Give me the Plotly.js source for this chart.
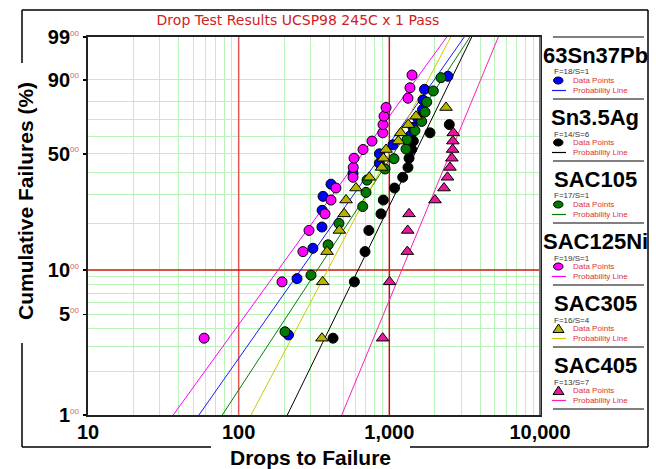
<!DOCTYPE html>
<html><head><meta charset="utf-8">
<script src="https://cdn.plot.ly/plotly-3.0.1.min.js"></script>
<style>html,body{margin:0;padding:0;background:#fff}#chart{width:656px;height:469px}</style>
</head><body><div id="chart"></div>
<script>
// ---------- data ----------
const seriesNames  = ['63Sn37Pb','Sn3.5Ag','SAC105','SAC125Ni','SAC305','SAC405'];
const seriesCounts = ['F=18/S=1','F=14/S=6','F=17/S=1','F=19/S=1','F=16/S=4','F=13/S=7'];

const drops_63Sn37Pb = [214, 244, 311, 357, 358, 363, 410, 574, 858, 860, 1057, 1371, 1436, 1549, 1660, 1673, 1712, 2450];
const pct_63Sn37Pb   = [3.61, 8.76, 13.92, 19.07, 24.23, 29.38, 34.54, 39.69, 44.85, 50.00, 55.15, 60.31, 65.46, 70.62, 75.77, 80.93, 86.08, 91.24];

const drops_Sn35Ag = [423, 586, 690, 731, 880, 912, 1082, 1227, 1330, 1351, 1407, 1443, 1862, 2500];
const pct_Sn35Ag   = [3.43, 8.33, 13.24, 18.14, 23.04, 27.94, 32.84, 37.75, 42.65, 47.55, 52.45, 57.35, 62.25, 67.16];

const drops_SAC105 = [203, 302, 392, 463, 666, 700, 711, 936, 1074, 1290, 1310, 1479, 1640, 1725, 1770, 1958, 2203];
const pct_SAC105   = [3.80, 9.24, 14.67, 20.11, 25.54, 30.98, 36.41, 41.85, 47.28, 52.72, 58.15, 63.59, 69.02, 74.46, 79.89, 85.33, 90.76];

const drops_SAC125Ni = [59, 194, 267, 293, 374, 410, 442, 574, 576, 583, 669, 767, 905, 908, 922, 951, 1330, 1371, 1414];
const pct_SAC125Ni   = [3.43, 8.33, 13.24, 18.14, 23.04, 27.94, 32.84, 37.75, 42.65, 47.55, 52.45, 57.35, 62.25, 67.16, 72.06, 76.96, 81.86, 86.76, 91.67];

const drops_SAC305 = [357, 361, 386, 466, 502, 516, 601, 736, 889, 912, 951, 1147, 1190, 1336, 1503, 2377];
const pct_SAC305   = [3.43, 8.33, 13.24, 18.14, 23.04, 27.94, 32.84, 37.75, 42.65, 47.55, 52.45, 57.35, 62.25, 67.16, 72.06, 76.96];

const drops_SAC405 = [903, 1003, 1316, 1324, 1351, 2010, 2306, 2432, 2527, 2600, 2630, 2640, 2658];
const pct_SAC405   = [3.43, 8.33, 13.24, 18.14, 23.04, 27.94, 32.84, 37.75, 42.65, 47.55, 52.45, 57.35, 62.25];

// probability lines (Weibull beta / eta)
const lineBeta = [1.511, 2.174, 1.619, 1.466, 2.007, 2.560];
const lineEta  = [1144, 1746, 1334, 848, 1195, 2914];

const xTickVals  = [10, 100, 1000, 10000];
const xTickText  = ['10', '100', '1,000', '10,000'];
const xMinorVals = [20,30,40,50,60,70,80,90,200,300,400,500,600,700,800,900,2000,3000,4000,5000,6000,7000,8000,9000];
const yTickVals  = [1, 5, 10, 50, 90, 99];
const yTickText  = ['1', '5', '10', '50', '90', '99'];
const yMinorVals = [2,3,4,6,7,8,9,20,30,40,60,70,80];
const refX = [100, 1000];
const refY = [10];

// ---------- styles ----------
const markerColors = ['#0000ff', '#000000', '#007a00', '#ff00ff', '#b4b400', '#e8189c'];
const lineColors   = ['#1a1aff', '#000000', '#008000', '#ff00ff', '#cccc00', '#ff1fb4'];
const markerSymbols = ['circle','circle','circle','circle','triangle-up','triangle-up'];

const dropsAll = [drops_63Sn37Pb, drops_Sn35Ag, drops_SAC105, drops_SAC125Ni, drops_SAC305, drops_SAC405];
const pctAll   = [pct_63Sn37Pb, pct_Sn35Ag, pct_SAC105, pct_SAC125Ni, pct_SAC305, pct_SAC405];

const wb = p => Math.log(-Math.log(1 - p / 100));
const Y0 = wb(1), Y1 = wb(99);

const traces = [];
refX.forEach((x, i) => traces.push({x:[x, x], y:[Y0, Y1], mode:'lines', line:{color: i === 0 ? '#e25555' : '#b81414', width:1.5}, hoverinfo:'skip'}));
refY.forEach(p => traces.push({x:[10, 10000], y:[wb(p), wb(p)], mode:'lines', line:{color:'#d41a1a', width:1.5}, hoverinfo:'skip'}));

// probability lines
const lineP = [1, 99];
seriesNames.forEach((n, i) => {
  traces.push({
    x: lineP.map(p => lineEta[i] * Math.pow(-Math.log(1 - p/100), 1/lineBeta[i])),
    y: lineP.map(wb), mode:'lines', line:{color: lineColors[i], width:1}, name: n + ' line', hoverinfo:'skip'
  });
});
// data points
[0,1,2,3,4,5].forEach(i => {
  const tri = markerSymbols[i] !== 'circle';
  traces.push({
    x: dropsAll[i], y: pctAll[i].map(wb), mode:'markers', name: seriesNames[i],
    marker:{symbol: markerSymbols[i], color: markerColors[i], size: tri ? 11 : 10, line:{color:'#000', width:1}}
  });
});

// ---------- pixel helpers ----------
const PL = 88, PR = 540, PT = 37, PB = 415;
const px = x => (x - PL) / (PR - PL);
const py = y => (PB - y) / (PB - PT);

const shapes = [];
const ann = [];
const frameLine = (x0, y0, x1, y1) => shapes.push({type:'line', xref:'paper', yref:'paper', x0:px(x0), y0:py(y0), x1:px(x1), y1:py(y1), line:{color:'#000', width:1.5}});
frameLine(22, 10, 648, 10);
frameLine(648, 10, 648, 447);
frameLine(22, 447, 211, 447);
frameLine(410, 447, 648, 447);
frameLine(22, 10, 22, 63);
frameLine(22, 343, 22, 447);
// right plot edge in grey
shapes.push({type:'line', xref:'paper', yref:'paper', x0:1, x1:1, y0:0, y1:1, line:{color:'#707070', width:2}});

// axis titles
ann.push({xref:'paper', yref:'paper', x:px(310), y:py(457), text:'<b>Drops to Failure</b>', showarrow:false,
  font:{family:'Liberation Sans, Arial', size:21, color:'#000'}, xanchor:'center', yanchor:'middle'});
ann.push({xref:'paper', yref:'paper', x:px(25), y:py(201), text:'<b>Cumulative Failures (%)</b>', showarrow:false, textangle:-90,
  font:{family:'Liberation Sans, Arial', size:21, color:'#000'}, xanchor:'center', yanchor:'middle'});

// custom legend
const legTop = 37, legStep = 62;
const sep = (y) => shapes.push({type:'line', xref:'paper', yref:'paper', x0:px(553), x1:px(644), y0:py(y), y1:py(y), line:{color:'#808080', width:2}});
for (let i = 0; i < 6; i++) {
  const s = legTop + legStep * i;
  sep(s);
  ann.push({xref:'paper', yref:'paper', x:px(595), y:py(s + 18), text:'<b>' + seriesNames[i] + '</b>', showarrow:false,
    font:{family:'Liberation Sans, Arial', size:22, color:'#000'}, xanchor:'center', yanchor:'middle'});
  ann.push({xref:'paper', yref:'paper', x:px(552), y:py(s + 35), text: seriesCounts[i], showarrow:false,
    font:{family:'Liberation Sans, Arial', size:8, color:'#333'}, xanchor:'left', yanchor:'middle'});
  ann.push({xref:'paper', yref:'paper', x:px(571), y:py(s + 43.5), text:'Data Points', showarrow:false,
    font:{family:'Liberation Sans, Arial', size:8, color:'#dd3333'}, xanchor:'left', yanchor:'middle'});
  ann.push({xref:'paper', yref:'paper', x:px(571), y:py(s + 53.5), text:'Probability Line', showarrow:false,
    font:{family:'Liberation Sans, Arial', size:8, color:'#dd3333'}, xanchor:'left', yanchor:'middle'});
  const cy = s + 43.5;
  if (markerSymbols[i] === 'circle') {
    shapes.push({type:'circle', xref:'paper', yref:'paper', x0:px(553.5), x1:px(563), y0:py(cy - 3.5), y1:py(cy + 3.5),
      fillcolor: markerColors[i], line:{color:'#000', width:1}});
  } else {
    shapes.push({type:'path', xref:'paper', yref:'paper',
      path:`M ${px(553)} ${py(cy + 4)} L ${px(564)} ${py(cy + 4)} L ${px(558.5)} ${py(cy - 4.5)} Z`,
      fillcolor: markerColors[i], line:{color:'#000', width:1}});
  }
  shapes.push({type:'line', xref:'paper', yref:'paper', x0:px(552), x1:px(566), y0:py(s + 53.5), y1:py(s + 53.5),
    line:{color: lineColors[i], width:1.2}});
}
sep(legTop + legStep * 6);

const gridC = '#b9f3b9';
const layout = {
  width:656, height:469,
  margin:{l:PL, r:656 - PR, t:PT, b:469 - PB, pad:0},
  paper_bgcolor:'#fff', plot_bgcolor:'#fff',
  showlegend:false,
  title:{text:'Drop Test Results UCSP98 245C x 1 Pass', font:{family:'DejaVu Sans', size:14, color:'#cc2222'},
    xref:'container', yref:'container', x:298/656, xanchor:'center', y:1 - 20/469, yanchor:'middle'},
  xaxis:{type:'log', range:[1, 4], tickmode:'array', tickvals:xTickVals, ticktext:xTickText.map(t => '<b>' + t + '</b>'),
    tickfont:{family:'Liberation Sans, Arial', size:20, color:'#000'}, ticks:'', ticklabelstandoff:-2,
    showgrid:true, gridcolor:gridC, gridwidth:1,
    minor:{tickmode:'array', tickvals:xMinorVals, showgrid:true, gridcolor:gridC, gridwidth:1, ticks:''},
    showline:true, mirror:true, linecolor:'#222', linewidth:2, zeroline:false, fixedrange:true},
  yaxis:{range:[Y0, Y1], tickmode:'array', tickvals:yTickVals.map(wb),
    ticktext:yTickText.map(t => '<b>' + t + '</b><sup><span style="font-size:8px;color:#e05a5a">00</span></sup>'),
    tickfont:{family:'Liberation Sans, Arial', size:20, color:'#000'}, ticks:'outside', ticklen:3, tickwidth:1.5, tickcolor:'#000',
    showgrid:true, gridcolor:gridC, gridwidth:1,
    minor:{tickmode:'array', tickvals:yMinorVals.map(wb), showgrid:true, gridcolor:gridC, gridwidth:1, ticks:''},
    showline:true, mirror:true, linecolor:'#222', linewidth:2, zeroline:false, fixedrange:true},
  shapes: shapes,
  annotations: ann
};

Plotly.newPlot('chart', traces, layout, {staticPlot:true, displayModeBar:false});
</script>
</body></html>
